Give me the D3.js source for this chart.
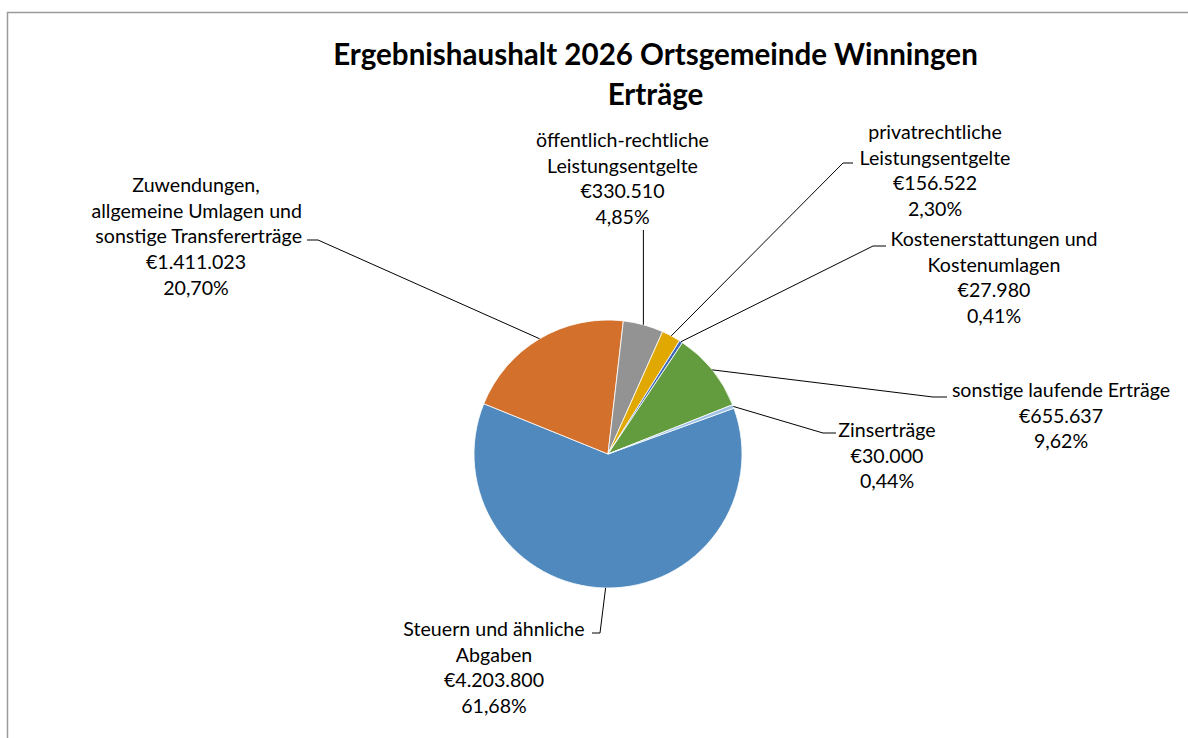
<!DOCTYPE html>
<html>
<head>
<meta charset="utf-8">
<script src="https://cdn.jsdelivr.net/npm/d3@7"></script>
<style>
  html, body { margin: 0; padding: 0; background: #fff; }
  svg { display: block; }
  text { font-family: Lato, "Open Sans", sans-serif; fill: #000; }
</style>
</head>
<body>
<svg id="chart" width="1188" height="738"></svg>
<script>
// ---- data ----
const categories = [
  "Steuern und ähnliche Abgaben",
  "Zuwendungen, allgemeine Umlagen und sonstige Transfererträge",
  "öffentlich-rechtliche Leistungsentgelte",
  "privatrechtliche Leistungsentgelte",
  "Kostenerstattungen und Kostenumlagen",
  "sonstige laufende Erträge",
  "Zinserträge"
];
const labelLines = [
  ["Steuern und ähnliche", "Abgaben"],
  ["Zuwendungen,", "allgemeine Umlagen und", "sonstige Transfererträge"],
  ["öffentlich-rechtliche", "Leistungsentgelte"],
  ["privatrechtliche", "Leistungsentgelte"],
  ["Kostenerstattungen und", "Kostenumlagen"],
  ["sonstige laufende Erträge"],
  ["Zinserträge"]
];
const values = [4203800, 1411023, 330510, 156522, 27980, 655637, 30000];
const colors = ["#4f89bd", "#d3702b", "#939393", "#e0a800", "#3b67b6", "#629c3e", "#9dc0e4"];
const titleLines = ["Ergebnishaushalt 2026 Ortsgemeinde Winningen", "Erträge"];

// ---- layout (label placement, as positioned in the original) ----
const cx = 608, cy = 454, R = 134;
const firstSliceAngle = 70; // degrees
const lineH = 25.7;
const labelLayout = [
  { x: 494,  y: 629, seg: [592, 600, 633] },
  { x: 196,  y: 185, seg: [307, 318, 240], endX: [null, 302, 302] },
  { x: 622.5, y: 140, seg: null, vert: 230 },
  { x: 935,  y: 132, seg: [843, 853, 163] },
  { x: 994,  y: 239, seg: [873, 886, 246] },
  { x: 1061, y: 390, seg: [933, 947, 397] },
  { x: 887,  y: 430, seg: [823, 836, 433] }
];

const svg = d3.select("#chart");

// frame
svg.append("rect").attr("x", 7.5).attr("y", 12.5).attr("width", 1200).attr("height", 760)
  .attr("fill", "none").attr("stroke", "#9a9a9a").attr("stroke-width", 1.5);

// title
const title = svg.append("g");
titleLines.forEach((t, i) => {
  title.append("text").attr("x", 655.5).attr("y", 55 + i * 40).attr("dy", "0.35em")
    .attr("text-anchor", "middle").attr("font-weight", "bold").attr("font-size", 27).text(t);
});
{
  const n = title.select("text").node();
  const w = n.getComputedTextLength();
  title.selectAll("text").attr("font-size", 27 * 645 / w);
}

// pie
const total = d3.sum(values);
const a0 = firstSliceAngle * Math.PI / 180;
const pie = d3.pie().sort(null).value(d => d).startAngle(a0).endAngle(a0 + 2 * Math.PI);
const arcs = pie(values);
const arc = d3.arc().innerRadius(0).outerRadius(R);
const g = svg.append("g").attr("transform", `translate(${cx},${cy})`);
g.selectAll("path").data(arcs).join("path")
  .attr("d", arc)
  .attr("fill", (d, i) => colors[i])
  .attr("stroke", "#fff").attr("stroke-width", 0.8);

// label font size fit: "öffentlich-rechtliche" ≈ 173px wide in the reference
let labelFs = 17;
{
  const t = svg.append("text").attr("font-size", 17).text("öffentlich-rechtliche");
  const w = t.node().getComputedTextLength();
  labelFs = 17 * 173 / w;
  t.remove();
}

const loc = d3.formatLocale({ decimal: ",", thousands: ".", grouping: [3], currency: ["€", ""] });
const money = loc.format("$,.0f");
const pct = loc.format(".2%");

// leader lines + labels
const leaders = svg.append("g").attr("fill", "none").attr("stroke", "#000").attr("stroke-width", 1);
const labels = svg.append("g");
arcs.forEach((d, i) => {
  const mid = (d.startAngle + d.endAngle) / 2;
  const px = cx + R * Math.sin(mid), py = cy - R * Math.cos(mid);
  const L = labelLayout[i];
  if (L.seg) {
    const [x1, x2, y] = L.seg;
    const near = Math.abs(x1 - px) < Math.abs(x2 - px) ? x1 : x2;
    const far = near === x1 ? x2 : x1;
    leaders.append("path").attr("d", d3.line()([[far, y], [near, y], [px, py]]));
  } else {
    leaders.append("path").attr("d", d3.line()([[px, L.vert], [px, py]]));
  }
  const lines = labelLines[i].concat([money(values[i]), pct(values[i] / total)]);
  lines.forEach((t, j) => {
    const ex = L.endX && L.endX[j];
    labels.append("text")
      .attr("x", ex != null ? ex : L.x)
      .attr("y", L.y + j * lineH).attr("dy", "0.35em")
      .attr("text-anchor", ex != null ? "end" : "middle")
      .attr("font-size", labelFs).text(t);
  });
});
</script>
</body>
</html>
